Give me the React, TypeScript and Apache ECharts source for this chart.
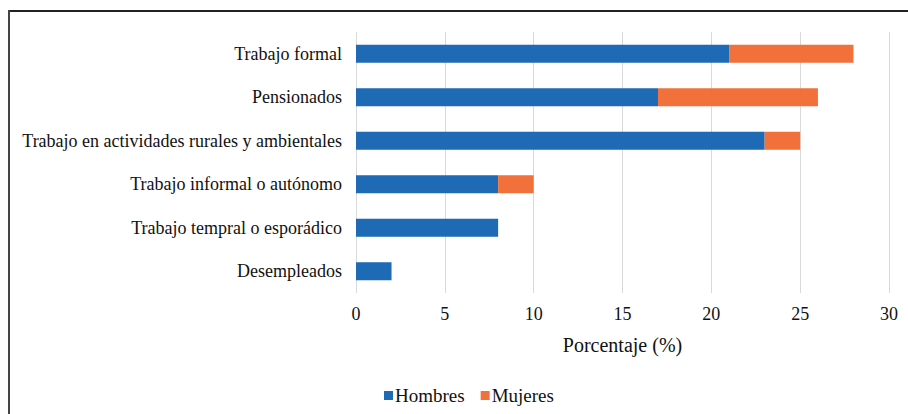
import React, { useEffect, useRef } from "react";
import * as echarts from "echarts";

const categories = [
  "Desempleados",
  "Trabajo tempral o esporádico",
  "Trabajo informal o autónomo",
  "Trabajo en actividades rurales y ambientales",
  "Pensionados",
  "Trabajo formal",
];
const hombres = [2, 8, 8, 23, 17, 21];
const mujeres = [0, 0, 2, 2, 9, 7];
const xTicks = { min: 0, max: 30, interval: 5 };

const FONT = "Liberation Serif";

export default function App() {
  const ref = useRef<HTMLDivElement>(null);
  useEffect(() => {
    if (!ref.current) return;
    const chart = echarts.init(ref.current, undefined, { renderer: "svg" });
    chart.setOption({
      animation: false,
      backgroundColor: "#ffffff",
      textStyle: { fontFamily: FONT },
      grid: { left: 356, right: 19, top: 32, bottom: 121, containLabel: false, outerBoundsMode: "none" },
      xAxis: {
        type: "value",
        min: xTicks.min,
        max: xTicks.max,
        interval: xTicks.interval,
        name: "Porcentaje (%)",
        nameLocation: "middle",
        nameGap: 42,
        nameTextStyle: { fontFamily: FONT, fontSize: 20, color: "#111" },
        axisLine: { show: false },
        axisTick: { show: false },
        axisLabel: { fontFamily: FONT, fontSize: 18, color: "#111", margin: 12 },
        splitLine: { show: true, lineStyle: { color: "#d9d9d9", width: 1 } },
      },
      yAxis: {
        type: "category",
        data: categories,
        axisLine: { show: false },
        axisTick: { show: false },
        axisLabel: { fontFamily: FONT, fontSize: 18, color: "#111", margin: 14 },
        splitLine: { show: false },
      },
      legend: {
        top: 386,
        left: 384,
        padding: 0,
        itemWidth: 9,
        itemHeight: 9,
        itemGap: 16,
        icon: "rect",
        textStyle: { fontFamily: FONT, fontSize: 19, color: "#111", padding: [0, 0, 0, -3] },
        data: ["Hombres", "Mujeres"],
      },
      series: [
        {
          name: "Hombres",
          type: "bar",
          stack: "total",
          data: hombres,
          barWidth: "41%",
          itemStyle: { color: "#1e6ab5" },
        },
        {
          name: "Mujeres",
          type: "bar",
          stack: "total",
          data: mujeres,
          barWidth: "41%",
          itemStyle: { color: "#f2703a" },
        },
      ],
      graphic: [
        {
          type: "line",
          shape: { x1: 8, y1: 11, x2: 908, y2: 11 },
          style: { stroke: "#222", lineWidth: 2 },
        },
        {
          type: "line",
          shape: { x1: 9, y1: 10, x2: 9, y2: 414 },
          style: { stroke: "#444", lineWidth: 2 },
        },
      ],
    });
    return () => chart.dispose();
  }, []);
  return (
    <div
      ref={ref}
      style={{ position: "fixed", left: 0, top: 0, width: 908, height: 414 }}
    />
  );
}
